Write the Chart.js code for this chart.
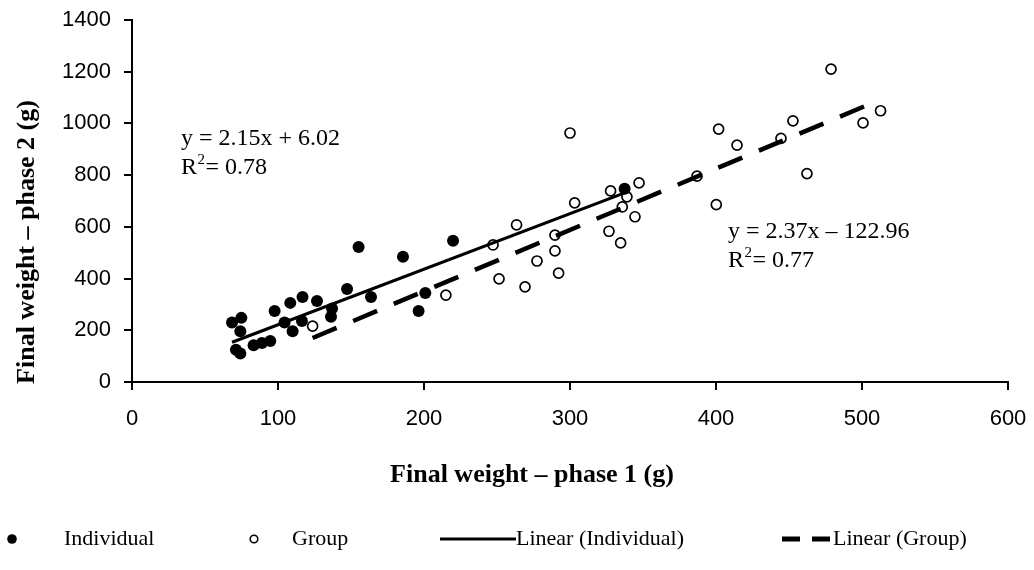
<!DOCTYPE html>
<html><head><meta charset="utf-8">
<script src="https://cdn.jsdelivr.net/npm/chart.js@4.4.1/dist/chart.umd.min.js"></script>
<style>html,body{margin:0;padding:0;background:#fff}#wrap{width:1034px;height:570px}</style>
</head><body><div id="wrap"><canvas id="c" width="1034" height="570"></canvas></div>
<script>
// ---- data ----
const individualX = [68.5, 74.9, 74.2, 71.2, 74.2, 83.3, 89, 94.7, 97.7, 104.5, 108.4, 116.8, 110, 116.4, 126.7, 137, 136.3, 147.3, 155.2, 163.7, 185.6, 200.9, 196.3, 219.9, 337.4];
const individualY = [230, 248, 196, 125, 110, 142, 151, 159, 275, 230, 306, 329, 196, 236, 313, 284, 252, 360, 522, 329, 484, 344, 275, 546, 747];
const groupX = [123.7, 215, 247.3, 251.4, 263.4, 269.2, 277.4, 289.7, 289.7, 292.2, 300, 303.2, 326.7, 334.7, 327.8, 339, 335.8, 344.5, 347.3, 387, 400.2, 401.8, 414.4, 444.5, 452.7, 462.3, 478.8, 500.7, 512.7];
const groupY = [216, 336, 530, 399, 608, 368, 468, 568, 507, 421, 963, 693, 583, 538, 739, 716, 677, 639, 770, 796, 686, 978, 916, 942, 1010, 806, 1210, 1002, 1049];
const xTicks = [0, 100, 200, 300, 400, 500, 600];
const yTicks = [0, 200, 400, 600, 800, 1000, 1200, 1400];
const individualFit = { slope: 2.15, intercept: 6.02, r2: 0.78 };
const groupFit = { slope: 2.37, intercept: -122.96, r2: 0.77 };
const seriesNames = ['Individual', 'Group', 'Linear (Individual)', 'Linear (Group)'];
const xTitle = 'Final weight \u2013 phase 1 (g)';
const yTitle = 'Final weight \u2013 phase 2 (g)';

// ---- build datasets ----
const toPts = (xs, ys) => xs.map((x, i) => ({ x, y: ys[i] }));
const fitLine = (xs, f) => {
  const lo = Math.min(...xs), hi = Math.max(...xs);
  return [{ x: lo, y: f.slope * lo + f.intercept }, { x: hi, y: f.slope * hi + f.intercept }];
};
const fmtEq = f => 'y = ' + f.slope.toFixed(2) + 'x ' + (f.intercept < 0 ? '\u2013 ' : '+ ') + Math.abs(f.intercept).toFixed(2);

const SERIF = '"Liberation Serif", "Times New Roman", serif';
const SANS = '"Liberation Sans", Arial, sans-serif';

const textPlugin = {
  id: 'texts',
  afterDraw(chart) {
    const ctx = chart.ctx;
    ctx.save();
    ctx.fillStyle = '#000';
    // axis titles
    ctx.font = 'bold 26px ' + SERIF;
    ctx.textAlign = 'center';
    ctx.textBaseline = 'middle';
    ctx.fillText(xTitle, 532, 475);
    ctx.save();
    ctx.translate(27, 242);
    ctx.rotate(-Math.PI / 2);
    ctx.fillText(yTitle, 0, 0);
    ctx.restore();
    // equations
    const eq = (f, x, y) => {
      ctx.textAlign = 'left';
      ctx.textBaseline = 'alphabetic';
      ctx.font = '24px ' + SERIF;
      ctx.fillText(fmtEq(f), x, y);
      ctx.fillText('R', x, y + 29);
      const w = ctx.measureText('R').width;
      ctx.font = '15px ' + SERIF;
      ctx.fillText('2', x + w + 0.5, y + 29 - 10);
      const w2 = ctx.measureText('2').width;
      ctx.font = '24px ' + SERIF;
      ctx.fillText('= ' + f.r2.toFixed(2), x + w + w2 + 1, y + 29);
    };
    eq(individualFit, 181, 145);
    eq(groupFit, 728, 238);
    // legend
    const ly = 539;
    ctx.font = '22px ' + SERIF;
    ctx.textAlign = 'left';
    ctx.textBaseline = 'middle';
    ctx.beginPath(); ctx.arc(12, ly, 4.8, 0, Math.PI * 2); ctx.fill();
    ctx.fillText(seriesNames[0], 64, ly);
    ctx.beginPath(); ctx.arc(254, ly, 3.8, 0, Math.PI * 2);
    ctx.lineWidth = 1.6; ctx.strokeStyle = '#000'; ctx.stroke();
    ctx.fillText(seriesNames[1], 292, ly);
    ctx.lineWidth = 3; ctx.beginPath(); ctx.moveTo(440, ly); ctx.lineTo(516, ly); ctx.stroke();
    ctx.fillText(seriesNames[2], 516, ly);
    ctx.lineWidth = 5; ctx.setLineDash([18, 12]);
    ctx.beginPath(); ctx.moveTo(782, ly); ctx.lineTo(832, ly); ctx.stroke();
    ctx.setLineDash([]);
    ctx.fillText(seriesNames[3], 833, ly);
    ctx.restore();
  }
};

new Chart(document.getElementById('c'), {
  type: 'scatter',
  data: {
    datasets: [
      { label: seriesNames[2], type: 'line', data: fitLine(individualX, individualFit), borderColor: '#000', borderWidth: 3.2, pointRadius: 0, fill: false },
      { label: seriesNames[3], type: 'line', data: fitLine(groupX, groupFit), borderColor: '#000', borderWidth: 4.5, borderDash: [26, 18], pointRadius: 0, fill: false },
      { label: seriesNames[0], data: toPts(individualX, individualY), pointRadius: 6, pointBackgroundColor: '#000', pointBorderColor: '#000', pointBorderWidth: 0 },
      { label: seriesNames[1], data: toPts(groupX, groupY), pointRadius: 5, pointBackgroundColor: '#fff', pointBorderColor: '#000', pointBorderWidth: 1.7 }
    ]
  },
  options: {
    responsive: false,
    animation: false,
    devicePixelRatio: 1,
    layout: { padding: { left: 0, top: 20, right: 26, bottom: 128 } },
    plugins: { legend: { display: false }, tooltip: { enabled: false } },
    scales: {
      x: {
        type: 'linear', min: 0, max: 600,
        afterBuildTicks: s => { s.ticks = xTicks.map(v => ({ value: v })); },
        afterFit: s => { s.height = 60; s.paddingLeft = 0; s.paddingRight = 0; },
        ticks: { color: '#000', font: { family: SANS, size: 22 }, padding: 16, maxRotation: 0, callback: v => String(v) },
        grid: { display: true, drawOnChartArea: false, drawTicks: true, tickLength: 8, color: '#000', lineWidth: 2 },
        border: { display: true, color: '#000', width: 2 }
      },
      y: {
        type: 'linear', min: 0, max: 1400,
        afterBuildTicks: s => { s.ticks = yTicks.map(v => ({ value: v })); },
        afterFit: s => { s.width = 132; s.paddingTop = 0; s.paddingBottom = 0; },
        ticks: { color: '#000', font: { family: SANS, size: 22 }, padding: 13, callback: v => String(v) },
        grid: { display: true, drawOnChartArea: false, drawTicks: true, tickLength: 8, color: '#000', lineWidth: 2 },
        border: { display: true, color: '#000', width: 2 }
      }
    }
  },
  plugins: [textPlugin]
});
</script>
</body></html>
